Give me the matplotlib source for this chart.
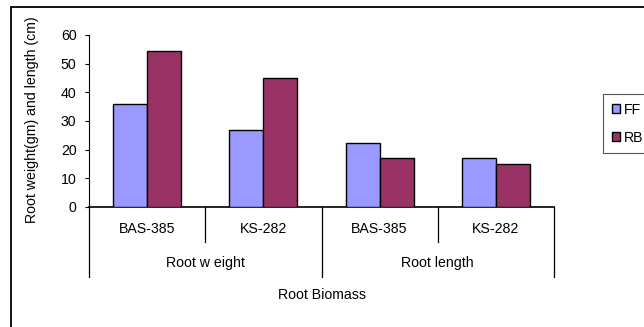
import matplotlib.pyplot as plt
from matplotlib.patches import Rectangle
from matplotlib.transforms import blended_transform_factory

# dados do gráfico
categorias = ["BAS-385", "KS-282", "BAS-385", "KS-282"]
grupos = ["Root w eight", "Root length"]
ff = [36, 27, 22.5, 17]
rb = [54.5, 45, 17, 15]
yticks = [0, 10, 20, 30, 40, 50, 60]

plt.rcParams['font.family'] = ['Liberation Sans', 'DejaVu Sans']
plt.rcParams['font.size'] = 10.2

W, H = 644, 327
fig = plt.figure(figsize=(W / 100, H / 100), dpi=100)

# moldura externa (cortada à direita e embaixo, como no original)
fig.patches.append(Rectangle((11 / W, -0.2), 2, 1 - 7 / H + 0.2, transform=fig.transFigure,
                             fill=False, edgecolor='black', linewidth=1.3))

x0, x1, ytop, ybot = 89, 554, 35, 207
ax = fig.add_axes([x0 / W, 1 - ybot / H, (x1 - x0) / W, (ybot - ytop) / H])

pos = list(range(len(categorias)))
largura = 0.293
ax.bar([p - largura / 2 for p in pos], ff, largura, color='#9999FF', edgecolor='black',
       linewidth=1, label='FF', zorder=3)
ax.bar([p + largura / 2 for p in pos], rb, largura, color='#993366', edgecolor='black',
       linewidth=1, label='RB', zorder=3)

ax.set_xlim(-0.5, len(categorias) - 0.5)
ax.set_ylim(0, 60)
ax.set_yticks(yticks)
ax.tick_params(axis='y', direction='out', length=3, width=0.8, pad=6)
ax.set_xticks([])
for s in ['top', 'right']:
    ax.spines[s].set_visible(False)
ax.spines['left'].set_linewidth(0.8)
ax.spines['bottom'].set_linewidth(1.2)

# rótulos de categorias e divisórias abaixo do eixo
tr = blended_transform_factory(ax.transData, ax.transAxes)
h_eixo = ybot - ytop
for p, c in zip(pos, categorias):
    ax.text(p, -(229 - ybot) / h_eixo, c, transform=tr, ha='center', va='center')
n_por_grupo = len(categorias) // len(grupos)
for i in range(len(categorias) + 1):
    xd = i - 0.5
    longa = (i % n_por_grupo == 0)
    yfim = 277 if longa else 242
    ax.plot([xd, xd], [0, -(yfim - ybot) / h_eixo], transform=tr, color='black',
            linewidth=0.9, clip_on=False)
for g, nome in enumerate(grupos):
    centro = g * n_por_grupo + (n_por_grupo - 1) / 2
    ax.text(centro, -(263 - ybot) / h_eixo, nome, transform=tr, ha='center', va='center')
ax.text((len(categorias) - 1) / 2, -(295 - ybot) / h_eixo, 'Root Biomass', transform=tr,
        ha='center', va='center')

fig.text(32 / W, 1 - 120 / H, 'Root weight(gm) and length (cm)', rotation=90,
         ha='center', va='center')

leg = ax.legend(loc='upper left', bbox_to_anchor=(603 / W, 1 - 94 / H),
                bbox_transform=fig.transFigure, fancybox=False, framealpha=1,
                edgecolor='#555555', handlelength=0.6, handleheight=0.6,
                handletextpad=0.25, labelspacing=1.0, borderpad=0.6, borderaxespad=0)
leg.get_frame().set_linewidth(0.8)

fig.savefig('out.png', dpi=100)
